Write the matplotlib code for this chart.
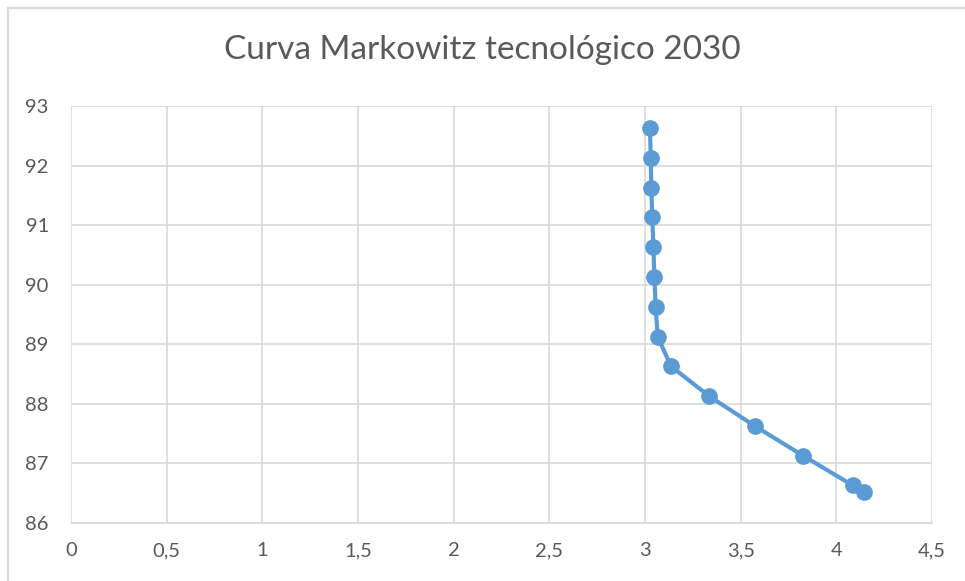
import matplotlib
matplotlib.use("Agg")
import matplotlib.pyplot as plt
from matplotlib.lines import Line2D
from matplotlib.ticker import FuncFormatter

plt.rcParams['font.family'] = ['Lato', 'DejaVu Sans']

risk = [3.026, 3.030, 3.033, 3.038, 3.044, 3.049, 3.056, 3.066,
        3.136, 3.335, 3.573, 3.826, 4.086, 4.145]
ret = [92.63, 92.13, 91.63, 91.13, 90.63, 90.13, 89.63, 89.13,
       88.63, 88.13, 87.63, 87.13, 86.63, 86.52]
x_ticks = [0, 0.5, 1, 1.5, 2, 2.5, 3, 3.5, 4, 4.5]
y_ticks = [86, 87, 88, 89, 90, 91, 92, 93]
title = "Curva Markowitz tecnológico 2030"

W, H = 965, 581
fig = plt.figure(figsize=(W / 100, H / 100), dpi=100)
ax = fig.add_axes([71 / W, 1 - 523 / H, (932 - 71) / W, (523 - 106) / H])

blue = '#5B9BD5'
grid = '#D9D9D9'
text = '#595959'

ax.plot(risk, ret, color=blue, lw=3, marker='o', ms=11, zorder=3)
ax.set_xlim(0, 4.5)
ax.set_ylim(86, 93)
ax.set_xticks(x_ticks)
ax.set_yticks(y_ticks)
ax.xaxis.set_major_formatter(FuncFormatter(lambda v, p: f"{v:g}".replace('.', ',')))
ax.yaxis.set_major_formatter(FuncFormatter(lambda v, p: f"{v:g}"))
ax.grid(True, color=grid, lw=1.2)
ax.set_axisbelow(True)
for s in ['top', 'right', 'left']:
    ax.spines[s].set_visible(False)
ax.spines['bottom'].set_color(grid)
ax.spines['bottom'].set_linewidth(1.2)
ax.tick_params(length=0, labelsize=14.5, colors=text)
ax.tick_params(axis='x', pad=14)
ax.tick_params(axis='y', pad=16)

fig.text(0.5, 1 - 50 / H, title, ha='center', va='center', fontsize=24, color=text)

# chart border
fig.add_artist(Line2D([8 / W, 8 / W], [0, 1 - 8 / H], color=grid, lw=1.5))
fig.add_artist(Line2D([8 / W, 1], [1 - 8 / H, 1 - 8 / H], color=grid, lw=1.5))

fig.savefig("out.png", dpi=100)
